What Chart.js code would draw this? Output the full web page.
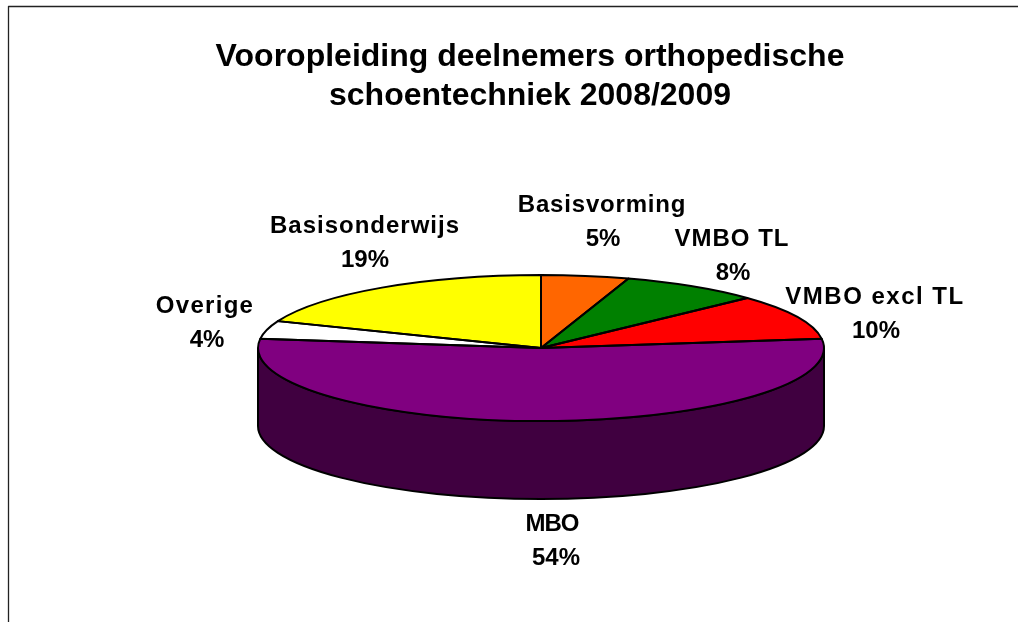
<!DOCTYPE html>
<html>
<head>
<meta charset="utf-8">
<title>Vooropleiding deelnemers</title>
<script src="https://cdn.jsdelivr.net/npm/chart.js@4"></script>
<style>
    html, body { margin: 0; padding: 0; background: #fff; }
    #chart { display: block; }
</style>
</head>
<body>
<canvas id="chart" width="1018" height="622"></canvas>
<script>
const titleLines = ['Vooropleiding deelnemers orthopedische', 'schoentechniek 2008/2009'];
const categories = ['Basisvorming', 'VMBO TL', 'VMBO excl TL', 'MBO', 'Overige', 'Basisonderwijs'];
const percentages = [5, 8, 10, 54, 4, 19];
const sliceColors = ['#FF6600', '#008000', '#FF0000', '#800080', '#FFFFFF', '#FFFF00'];
const sideColors = ['#803300', '#004000', '#800000', '#400040', '#808080', '#808000'];

// centre of each two line label on the canvas, same order as categories
const labelSpots = [[602, 222], [732, 256], [875, 314], [552, 541], [205, 323], [365, 243]];
// the original text is set wider than Liberation, MBO a bit narrower
const labelSpacing = ['0.8px', '1px', '1.5px', '-1px', '1.3px', '1px'];
// percent lines are not quite centred under the names
const percentShift = [1, 1, 1, 4, 2, 0];

const squash = 0.258;  // flattens the round pie into the tilted ellipse
const depth = 78;      // height of the pie wall

function ellipsePath(ctx, el, start, end, yShift, back) {
    ctx.save();
    ctx.translate(el.x, el.y + yShift);
    ctx.scale(1, squash);
    ctx.arc(0, 0, el.outerRadius, start, end, back);
    ctx.restore();
}

const tiltedPie = {
    id: 'tiltedPie',
    beforeDatasetsDraw(chart) {
        const ctx = chart.ctx;
        const arcs = chart.getDatasetMeta(0).data;

        // wall goes first, only the part of each slice facing the viewer
        arcs.forEach((el, i) => {
            const start = Math.max(el.startAngle, 0);
            const end = Math.min(el.endAngle, Math.PI);
            if (start >= end) return;
            ctx.beginPath();
            ellipsePath(ctx, el, start, end, 0, false);
            ellipsePath(ctx, el, end, start, depth, true);
            ctx.closePath();
            ctx.fillStyle = sideColors[i];
            ctx.fill();
            ctx.lineWidth = 2;
            ctx.strokeStyle = '#000';
            ctx.stroke();
        });

        const c = arcs[0];
        ctx.save();
        ctx.translate(c.x, c.y);
        ctx.scale(1, squash);
        ctx.translate(-c.x, -c.y);
    },
    afterDatasetsDraw(chart) {
        const ctx = chart.ctx;
        ctx.restore();

        // outlines are stroked unscaled so the line width stays even
        chart.getDatasetMeta(0).data.forEach(el => {
            ctx.beginPath();
            ctx.moveTo(el.x, el.y);
            ellipsePath(ctx, el, el.startAngle, el.endAngle, 0, false);
            ctx.closePath();
            ctx.lineWidth = 2;
            ctx.strokeStyle = '#000';
            ctx.lineJoin = 'round';
            ctx.stroke();
        });
    },
    afterDraw(chart) {
        const ctx = chart.ctx;
        ctx.save();

        // frame, the reference has no right or bottom edge
        ctx.beginPath();
        ctx.moveTo(8.5, 622);
        ctx.lineTo(8.5, 6.5);
        ctx.lineTo(1018, 6.5);
        ctx.lineWidth = 1.3;
        ctx.strokeStyle = '#222';
        ctx.stroke();

        ctx.fillStyle = '#000';
        ctx.textAlign = 'center';
        ctx.textBaseline = 'middle';

        ctx.font = 'bold 32px "Liberation Sans", Arial, sans-serif';
        titleLines.forEach((line, i) => ctx.fillText(line, 530, 57 + i * 39));

        ctx.font = 'bold 24px "Liberation Sans", Arial, sans-serif';
        categories.forEach((name, i) => {
            const [x, y] = labelSpots[i];
            ctx.letterSpacing = labelSpacing[i];
            ctx.fillText(name, x, y - 17);
            ctx.letterSpacing = '0px';
            ctx.fillText(percentages[i] + '%', x + percentShift[i], y + 17);
        });
        ctx.restore();
    }
};

new Chart(document.getElementById('chart').getContext('2d'), {
    type: 'pie',
    data: {
        labels: categories,
        datasets: [{
            data: percentages,
            backgroundColor: sliceColors,
            borderWidth: 0,
            radius: 283,
            clip: false
        }]
    },
    options: {
        responsive: false,
        animation: false,
        layout: { padding: { left: 100, right: 36, top: 100, bottom: 26 } },
        plugins: {
            legend: { display: false },
            tooltip: { enabled: false },
            title: { display: false }
        }
    },
    plugins: [tiltedPie]
});
</script>
</body>
</html>
